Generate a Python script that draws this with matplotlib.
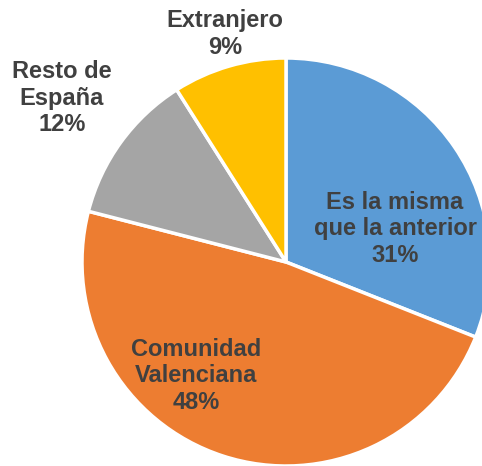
import matplotlib.pyplot as plt

# datos
categorias = ['Es la misma\nque la anterior', 'Comunidad\nValenciana', 'Resto de\nEspaña', 'Extranjero']
valores = [31, 48, 12, 9]
colores = ['#5B9BD5', '#ED7D31', '#A5A5A5', '#FFC000']

# posiciones de las etiquetas (en px respecto al centro)
pos_etiquetas = [(109, 33), (-90, -114), (-224, 164), (-61, 228)]

fig = plt.figure(figsize=(4.82, 4.66), dpi=100)
ax = fig.add_axes([0, 0, 1, 1])

R = 204
ax.pie(valores, colors=colores, startangle=90, counterclock=False, radius=R,
       center=(0, 0), wedgeprops=dict(edgecolor='white', linewidth=2.5))

for cat, v, (x, y) in zip(categorias, valores, pos_etiquetas):
    ax.text(x, y, f'{cat}\n{v}%', ha='center', va='center', fontsize=17,
            fontweight='bold', color='#404040', family='Liberation Sans',
            linespacing=1.2)

ax.set_xlim(-286, 482 - 286)
ax.set_ylim(-(466 - 262), 262)
ax.set_aspect('auto')
ax.axis('off')

fig.savefig('out.png', dpi=100)
